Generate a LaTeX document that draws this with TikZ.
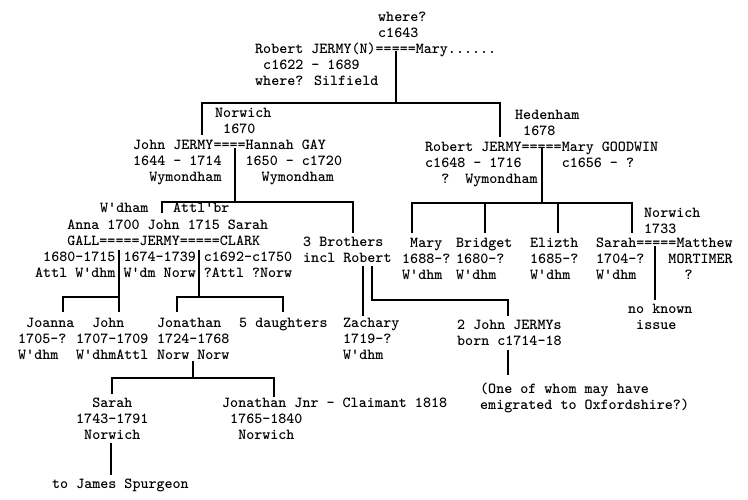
\documentclass[tikz,border=0pt]{standalone}
\usepackage{fontspec}
\newfontfamily\typewriter{lmmonolt10-bold.otf}
\tikzstyle{typed} = [anchor=north west, inner sep=0pt, align=left, font=\typewriter\fontsize{15.3}{16}\selectfont]
\tikzstyle{branch} = [line width=1.3pt]

\begin{document}
\begin{tikzpicture}[x=1pt, y=-1pt]
\useasboundingbox (0,0) rectangle (748,500);

\node(where) [typed] at (378,12) {where?\\c1643};
\node(robert) [typed] at (255,43) {Robert JERMY(N)=====Mary......\\\phantom{a}c1622 - 1689\\where? Silfield};

\node(norwich) [typed] at (215,108) {Norwich\\\phantom{a}1670};
\node(john) [typed] at (133,140) {John JERMY====Hannah GAY\\1644 - 1714\phantom{aaa}1650 - c1720\\\phantom{aa}Wymondham\phantom{aaaaa}Wymondham};
\node(hedenham) [typed] at (515,110) {Hedenham\\\phantom{a}1678};
\node(goodwin) [typed] at (425,142) {Robert JERMY=====Mary GOODWIN\\c1648 - 1716\phantom{aaaaa}c1656 - ?\\\phantom{aa}?\phantom{aa}Wymondham};

\node(wdham) [typed] at (100,203) {W'dham};
\node(attlbr) [typed] at (173,203) {Attl'br};
\node(jermy) [typed] at (35,220) {\phantom{aaaa}Anna 1700 John 1715 Sarah\\\phantom{aaaa}GALL=====JERMY=====CLARK\\\phantom{a}1680-1715 1674-1739 c1692-c1750\\Attl W'dhm W'dm Norw ?Attl ?Norw};
\node(brothers) [typed] at (303,237) {3 Brothers\\incl Robert};

\node(norwichb) [typed] at (644,208) {Norwich\\1733};
\node(mary) [typed] at (402,238) {\phantom{a}Mary\\1688-?\\W'dhm};
\node(bridget) [typed] at (456,238) {Bridget\\1680-?\\W'dhm};
\node(elizth) [typed] at (530,238) {Elizth\\1685-?\\W'dhm};
\node(sarah) [typed] at (596,238) {Sarah=====Matthew\\1704-?\phantom{aaa}MORTIMER\\W'dhm\phantom{aaaaaa}?};
\node(noissue) [typed] at (628,304) {no known\\\phantom{a}issue};

\node(joanna) [typed] at (18,318) {\phantom{a}Joanna\\1705-?\\W'dhm};
\node(johnb) [typed] at (76,318) {\phantom{aa}John\\1707-1709\\W'dhmAttl};
\node(jonathan) [typed] at (157,318) {Jonathan\\1724-1768\\Norw Norw};
\node(daughters) [typed] at (239,318) {5 daughters};
\node(zachary) [typed] at (343,318) {Zachary\\1719-?\\W'dhm};
\node(twojohns) [typed] at (457,320) {2 John JERMYs\\born c1714-18};
\node(oneof) [typed] at (480,383) {(One of whom may have\\emigrated to Oxfordshire?)};

\node(sarahb) [typed] at (76,398) {\phantom{aa}Sarah\\1743-1791\\\phantom{a}Norwich};
\node(claimant) [typed] at (222,398) {Jonathan Jnr - Claimant 1818\\\phantom{a}1765-1840\\\phantom{aa}Norwich};
\node(spurgeon) [typed] at (52,479) {to James Spurgeon};

\coordinate (m1) at (396,51);   \coordinate (bar1) at (396,103);
\coordinate (c1) at (202,135);  \coordinate (c2) at (500,137);
\coordinate (m2) at (235,148);  \coordinate (bar2) at (235,202);
\coordinate (c3) at (162,213);  \coordinate (c4) at (353,233);
\coordinate (m3) at (542,147);  \coordinate (bar3) at (542,203);
\coordinate (d1) at (412,233);  \coordinate (d2) at (485,233);
\coordinate (d3) at (558,233);  \coordinate (d4) at (632,233);
\coordinate (m4) at (119,250);  \coordinate (bar4) at (119,297);
\coordinate (e1) at (63,312);   \coordinate (e2) at (119,312);
\coordinate (m5) at (199,250);  \coordinate (bar5) at (199,297);
\coordinate (e3) at (177,312);  \coordinate (e4) at (283,312);
\coordinate (m6) at (363,266);  \coordinate (e5) at (363,316);
\coordinate (m7) at (372,266);  \coordinate (bar7) at (372,300);
\coordinate (e6) at (508,316);
\coordinate (m8) at (655,246);  \coordinate (e7) at (655,300);
\coordinate (m9) at (193,361);  \coordinate (bar9) at (193,378);
\coordinate (f1) at (112,394);  \coordinate (f2) at (274,397);
\coordinate (m10) at (508,350); \coordinate (f3) at (508,375);
\coordinate (m11) at (111,443); \coordinate (f4) at (111,475);

\draw [branch] (m1) -- (bar1);
\draw [branch] (c1) |- (bar1) -| (c2);
\draw [branch] (m2) -- (bar2);
\draw [branch] (c3) |- (bar2) -| (c4);
\draw [branch] (m3) -- (bar3);
\draw [branch] (d1) |- (bar3) -| (d4);
\draw [branch] (d2) -- (d2 |- bar3);
\draw [branch] (d3) -- (d3 |- bar3);
\draw [branch] (m4) -- (e2);
\draw [branch] (e1) |- (bar4);
\draw [branch] (m5) -- (bar5);
\draw [branch] (e3) |- (bar5) -| (e4);
\draw [branch] (m6) -- (e5);
\draw [branch] (m7) -- (bar7) -| (e6);
\draw [branch] (m8) -- (e7);
\draw [branch] (m9) -- (bar9);
\draw [branch] (f1) |- (bar9) -| (f2);
\draw [branch] (m10) -- (f3);
\draw [branch] (m11) -- (f4);

\end{tikzpicture}
\end{document}
